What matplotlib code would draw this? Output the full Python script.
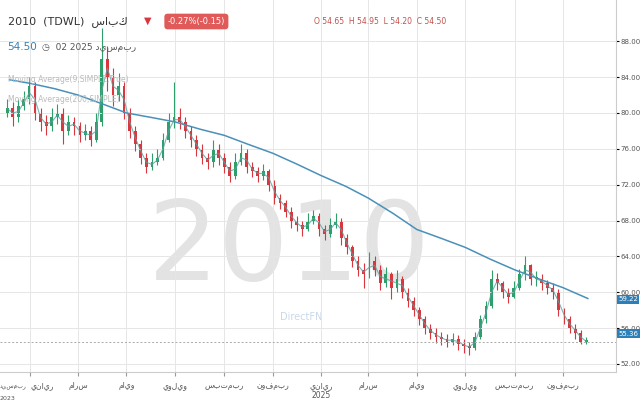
import matplotlib
matplotlib.use("Agg")
import matplotlib.pyplot as plt
import numpy as np
import pandas as pd

closes = [80.5, 79.5, 80.8, 81.5,
          83, 80, 79, 78.5,
          79.5, 80, 78, 79,
          78.5, 77.5, 78, 77, 79,
          86, 84, 82, 83,
          80, 78, 76.5, 75,
          74, 74.5, 75, 77, 79,
          79.5, 79, 78, 77,
          76, 75, 74.5, 76,
          75, 74, 73, 74.5, 75.5,
          74, 73.5, 73, 73.5,
          72, 70.5, 70, 69,
          68, 67.5, 67, 68, 68.5,
          67, 66.5, 67.5, 68,
          66, 65, 63.5, 62.5,
          62, 63.5, 62.5, 61, 62,
          60.5, 61.5, 60, 59,
          58, 57, 56, 55.5,
          55, 54.8, 54.5, 54.8, 54.2,
          54, 53.8, 55, 57,
          58.5, 61.5, 61, 60, 59.5,
          60.5, 62, 63, 61.5,
          61.5, 61, 60.5, 60,
          58, 57, 56, 55.5, 54.5,
          54.5]
highs = [81.5, 81.2, 81.5, 82.5,
         84, 83.5, 80.5, 79.8,
         80.5, 81, 80.5, 79.8,
         79.5, 79, 78.8, 78.5, 80,
         89.5, 87.5, 85, 84.5,
         83.5, 80.5, 78.5, 77,
         75.5, 75.5, 76, 77.8, 80,
         83.5, 80.5, 79.5, 78.5,
         77.5, 76.5, 75.5, 77,
         76.5, 75.5, 74.5, 75.5, 76.5,
         76, 74.5, 74, 74.3,
         73.8, 72.5, 71, 70.3,
         69.5, 68.5, 68, 68.8, 69.2,
         68.8, 67.5, 68.3, 68.8,
         68.3, 66.5, 65.3, 64,
         63.3, 64.5, 64, 63, 62.8,
         62.3, 62.5, 61.8, 60.5,
         59.5, 58.3, 57.3, 56.5,
         56, 55.6, 55.3, 55.5, 55.2,
         54.8, 54.5, 55.6, 57.5,
         59, 62.5, 62.2, 61.3, 60.5,
         61.2, 62.6, 64, 63.2,
         62.4, 62, 61.4, 61,
         60.4, 58.2, 57.3, 56.4, 55.8,
         55]
lows = [79.5, 78.5, 79, 80.3,
        81, 79.2, 78, 77.5,
        78, 78.8, 76.5, 77.5,
        77.5, 76.8, 77, 76.3, 76.8,
        78.5, 82.5, 80.8, 81.3,
        79.3, 77.2, 75.8, 74.3,
        73.3, 73.6, 74.2, 74.8, 76.8,
        78.3, 78.2, 77.2, 76.2,
        75.2, 74.3, 73.7, 74,
        74.2, 73.3, 72.3, 72.6, 74.2,
        73.3, 72.8, 72.3, 72.5,
        71.3, 69.8, 69.3, 68.4,
        67.2, 66.8, 66.3, 66.8, 67.6,
        66.3, 65.8, 66.2, 67.2,
        65.3, 64.3, 62.8, 61.8,
        60.5, 61.6, 61.8, 60.2, 60.6,
        59.2, 60, 59.4, 58.3,
        57.3, 56.3, 55.3, 54.8,
        54.3, 54.1, 53.9, 54.1, 53.6,
        53.2, 53, 53.6, 54.8,
        56.6, 58.2, 60.2, 59.3, 58.8,
        59.4, 60.2, 61.4, 60.8,
        60.7, 60.3, 59.8, 59.2,
        57.4, 56.4, 55.4, 54.8, 54.2,
        54.2]
ma200 = [83.7, 83.3, 82.7, 82.0, 81.0, 80.0, 79.5, 79.0, 78.2, 77.5, 76.5, 75.5,
         74.3, 73.0, 71.8, 70.5, 68.8, 67.0, 66.0, 65.0, 63.7, 62.5, 61.5, 60.5, 59.3]
month_labels = ["يناير", "مارس", "مايو", "يوليو", "سبتمبر", "نوفمبر",
                "يناير", "مارس", "مايو", "يوليو", "سبتمبر", "نوفمبر"]
yticks = [52, 56, 60, 64, 68, 72, 76, 80, 84, 88]

dates = pd.date_range("2023-12-03", periods=len(closes), freq="7D")
opens = [closes[0] - 0.5] + closes[:-1]
ma_dates = pd.to_datetime(["2023-12-06"] + [f"{y}-{m:02d}-01" for y in (2024, 2025) for m in range(1, 13)][:23] + ["2025-12-02"])
ma9 = pd.Series(closes).rolling(2, min_periods=1).mean()

fig = plt.figure(figsize=(6.4, 4), dpi=100)
ax = fig.add_axes([0, 0.07, 0.962, 0.93])
green, red = "#2e9e6a", "#d9363e"
for d, o, h, l, c in zip(dates, opens, highs, lows, closes):
    col = green if c >= o else red
    ax.vlines(d, l, h, color=col, lw=0.8)
    ax.bar(d, max(abs(c - o), 0.15), bottom=min(o, c), width=3.5, color=col, lw=0)
ax.plot(ma_dates, ma200, color="#4a90b8", lw=1.1)
ax.plot(dates, ma9, color="#5aa0a0", lw=0.8, alpha=0.8)
ax.axhline(54.5, color="#aaaaaa", lw=0.7, ls=(0, (2, 2)))

ax.set_xlim(pd.Timestamp("2023-11-24"), pd.Timestamp("2026-01-06"))
ax.set_ylim(51.1, 92.6)
ax.yaxis.tick_right()
ax.set_yticks(yticks)
ax.set_yticklabels([f"{v:.2f}" for v in yticks], fontsize=5, color="#555555")
ax.tick_params(axis="y", pad=1.5, length=2)
tick_dates = pd.to_datetime([f"{y}-{m:02d}-01" for y in (2024, 2025) for m in (1, 3, 5, 7, 9, 11)])
ax.set_xticks(tick_dates)
labs = list(month_labels)
labs[6] = labs[6] + "\n2025"
ax.set_xticklabels(labs, fontsize=5.5, color="#555555")
ax.get_xticklabels()[0].set_ha("left")
ax.text(0.0, -0.035, "ديسمبر", transform=ax.transAxes, fontsize=4.3, color="#555555", va="top", ha="left")
ax.text(0.0, -0.064, "2023", transform=ax.transAxes, fontsize=4.5, color="#555555", va="top", ha="left")
ax.grid(True, color="#e6e6e6", lw=0.7)
ax.tick_params(axis="x", length=3, color="#999999")
for s in ["top", "left"]:
    ax.spines[s].set_visible(False)
for s in ["right", "bottom"]:
    ax.spines[s].set_color("#cccccc")

# watermark
ax.text(0.47, 0.33, "2010", transform=ax.transAxes, fontsize=80, color="#e3e3e3", ha="center", va="center", zorder=0)
ax.text(0.49, 0.14, "DirectFN", transform=ax.transAxes, fontsize=7, color="#c8d8ea", ha="center", zorder=0)

# header
fig.text(0.012, 0.94, "2010  (TDWL)  سابك", fontsize=8, color="#333333")
fig.text(0.225, 0.94, "▼", fontsize=7, color="#d9363e")
fig.text(0.262, 0.94, "-0.27%(-0.15)", fontsize=6, color="white",
         bbox=dict(boxstyle="round,pad=0.4", fc="#e05a5a", ec="none"))
fig.text(0.49, 0.94, "O 54.65  H 54.95  L 54.20  C 54.50", fontsize=5.5, color="#c0504d")
fig.text(0.012, 0.875, "54.50", fontsize=7.5, color="#3a7fb0")
fig.text(0.065, 0.875, "◷  02 2025 ديسمبر", fontsize=6.5, color="#555555")
fig.text(0.012, 0.795, "Moving Average(9,SIMPLE,True)", fontsize=5.5, color="#bbbbbb")
fig.text(0.012, 0.745, "Moving Average(200,SIMPLE)", fontsize=5.5, color="#bbbbbb")

# price boxes
for v, col, txt in [(59.22, "#2c7fb8", "59.22"), (55.36, "#2c7fb8", "55.36"), (54.1, "#d7263d", "")]:
    ax.text(1.004, (v - 51.1) / (92.6 - 51.1), txt, transform=ax.transAxes,
            fontsize=5, color="white", va="center", ha="left",
            bbox=dict(boxstyle="square,pad=0.2", fc=col, ec="none"))

fig.savefig("out.png", dpi=100)
